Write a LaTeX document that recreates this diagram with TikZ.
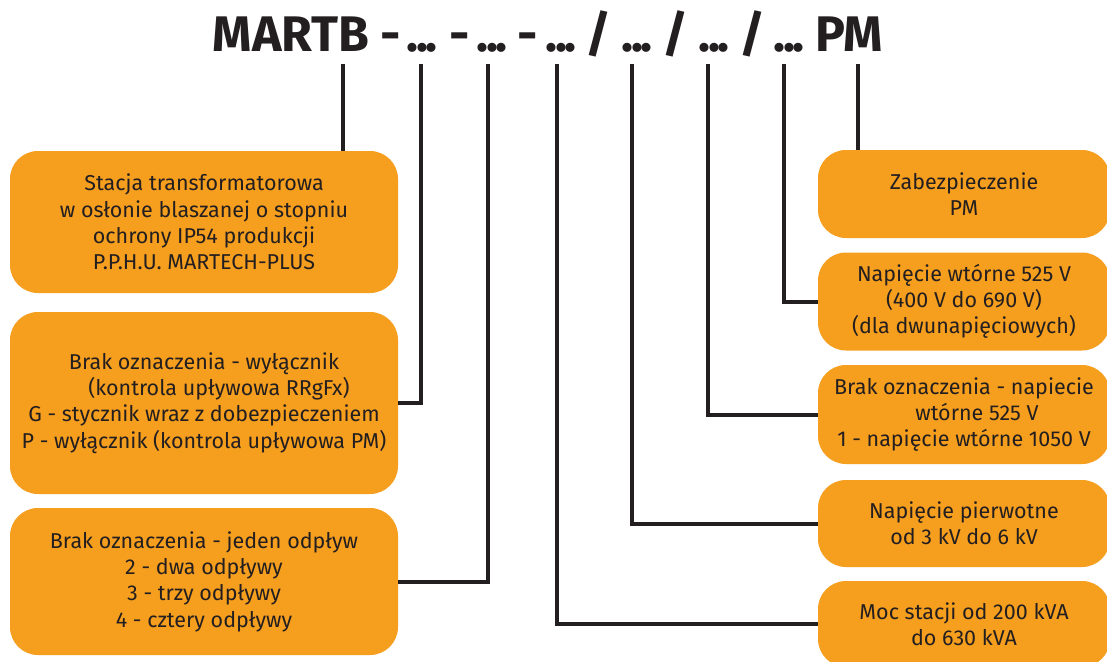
\documentclass[tikz,border=0pt]{standalone}
\usepackage{fontspec}
\setmainfont{Fira Sans}
\definecolor{boxor}{RGB}{246,158,30}
\definecolor{ink}{RGB}{35,31,32}
\newcommand{\tdots}{.\kern-2.5pt.\kern-2.5pt.}
\begin{document}
\begin{tikzpicture}[x=1pt,y=-1pt,
  box/.style={fill=boxor,rounded corners=28pt,inner sep=0pt,align=center,text=ink,font=\fontsize{21.5}{26.3}\selectfont},
  conn/.style={draw=ink,line width=4pt},
  tt/.style={anchor=base,inner sep=0pt,text=ink,font=\fontsize{50}{50}\selectfont\bfseries}]
\clip (0,0) rectangle (1107,661);
\fill[white] (0,0) rectangle (1107,661);
% title tokens
\node[tt] (m)  at (291,52) {MARTB};
\node[tt] (d1) at (391,52) {-};
\node[tt] (p1) at (422,52) {\tdots};
\node[tt] (d2) at (460,52) {-};
\node[tt] (p2) at (492,52) {\tdots};
\node[tt] (d3) at (528,52) {-};
\node[tt] (p3) at (561,52) {\tdots};
\node[tt] (s1) at (598,52) {/};
\node[tt] (p4) at (637,52) {\tdots};
\node[tt] (s2) at (675,52) {/};
\node[tt] (p5) at (714,52) {\tdots};
\node[tt] (s3) at (752,52) {/};
\node[tt] (p6) at (789,52) {\tdots};
\node[tt] (pm) at (849,52) {PM};
\coordinate (t1) at (343,64);
\coordinate (t2) at (421,64);
\coordinate (t3) at (488,64);
\coordinate (t4) at (557,64);
\coordinate (t5) at (632,64);
\coordinate (t6) at (708,64);
\coordinate (t7) at (784,64);
\coordinate (t8) at (858,64);
% boxes
\node[box,minimum width=388pt,minimum height=142pt] (L1) at (204,222) {Stacja transformatorowa\\w osłonie blaszanej o stopniu\\ochrony IP54 produkcji\\P.P.H.U. MARTECH-PLUS};
\node[box,minimum width=388pt,minimum height=182pt] (L2) at (204,403) {Brak oznaczenia - wyłącznik\\\hspace*{30pt}(kontrola upływowa RRgFx)\\G - stycznik wraz z dobezpieczeniem\\P - wyłącznik (kontrola upływowa PM)};
\node[box,minimum width=388pt,minimum height=147pt] (L3) at (204,581.5) {Brak oznaczenia - jeden odpływ\\2 - dwa odpływy\\3 - trzy odpływy\\4 - cztery odpływy};
\node[box,minimum width=292pt,minimum height=88pt] (R1) at (964,194) {Zabezpieczenie\\PM};
\node[box,minimum width=292pt,minimum height=98pt] (R2) at (964,301.5) {Napięcie wtórne 525 V\\(400 V do 690 V)\\(dla dwunapięciowych)};
\node[box,minimum width=292pt,minimum height=99pt] (R3) at (964,414.5) {Brak oznaczenia - napiecie\\\hspace*{26pt}wtórne 525 V\\1 - napięcie wtórne 1050 V};
\node[box,minimum width=292pt,minimum height=87pt] (R4) at (964,523.5) {Napięcie pierwotne\\od 3 kV do 6 kV};
\node[box,minimum width=292pt,minimum height=86pt] (R5) at (964,624) {Moc stacji od 200 kVA\\do 630 kVA};
% connectors
\draw[conn] (t1) -- (t1 |- L1.north);
\draw[conn] (t2) |- (L2.east);
\draw[conn] (t3) |- (L3.east);
\draw[conn] (t4) |- (R5.west);
\draw[conn] (t5) |- (R4.west);
\draw[conn] (t6) |- (R3.west);
\draw[conn] (t7) |- (R2.west);
\draw[conn] (t8) -- (t8 |- R1.north);
\end{tikzpicture}
\end{document}
